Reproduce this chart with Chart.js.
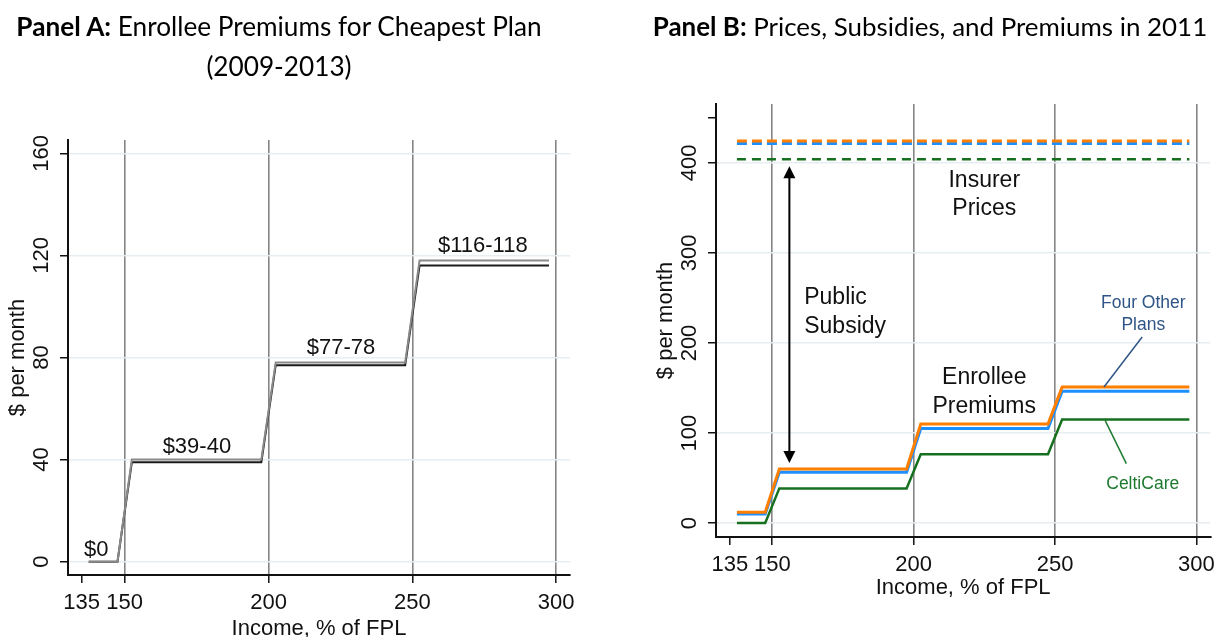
<!DOCTYPE html>
<html>
<head>
<meta charset="utf-8">
<script src="https://cdn.jsdelivr.net/npm/chart.js@4.4.1/dist/chart.umd.min.js"></script>
<style>
  html, body { margin: 0; padding: 0; background: #ffffff; }
  body { width: 1222px; height: 637px; position: relative; overflow: hidden; }
  .panel { position: absolute; top: 0; width: 611px; height: 637px; }
  #panelA { left: 0; }
  #panelB { left: 611px; }
  .ttl {
    position: absolute; white-space: nowrap; color: #000;
    font-family: Lato, "Open Sans", sans-serif; font-size: 27px;
    line-height: 40px; text-align: center; transform: translateX(-50%);
  }
  .ttl b { font-weight: 700; }
</style>
</head>
<body>
<div class="panel" id="panelA"><canvas id="chartA" width="611" height="637"></canvas></div>
<div class="panel" id="panelB"><canvas id="chartB" width="611" height="637"></canvas></div>
<div class="ttl" id="ttlA" style="left:279px; top:6px;"><span id="ttlA1"><b>Panel A:</b> Enrollee Premiums for Cheapest Plan</span><br><span>(2009-2013)</span></div>
<div class="ttl" id="ttlB" style="left:930px; top:6px;"><span id="ttlB1"><b>Panel B:</b> Prices, Subsidies, and Premiums in 2011</span></div>

<script>
// ---- shared axis values ----
const incomeSteps = [137.5, 147.5, 152.5, 197.5, 202.5, 247.5, 252.5, 297.5];
const xTickValues = [135, 150, 200, 250, 300];
const incomeGuides = [150, 200, 250, 300];

// ---- Panel A: cheapest-plan premiums, 2009-2013 ----
const cheapestHigh = [0, 0, 40, 40, 78, 78, 118, 118];
const cheapestLow  = [0, 0, 39, 39, 77, 77, 116, 116];
const yTicksA = [0, 40, 80, 120, 160];
const premiumLabels = ['$0', '$39-40', '$77-78', '$116-118'];
const premiumLabelX = [140.1, 175.1, 225.2, 274.5];
const premiumLabelY = [2.2, 42.5, 81.3, 121.2];

// ---- Panel B: 2011 prices, subsidies, premiums ----
const premOrange = [12, 12, 60, 60, 110, 110, 151, 151];
const premBlue   = [10, 10, 56.5, 56.5, 105, 105, 146.5, 146.5];
const premCelti  = [0, 0, 38.5, 38.5, 76.5, 76.5, 115, 115];
const priceSpan  = [137.5, 297.5];
const priceOrange = 424.5;
const priceBlue   = 421.5;
const priceCelti  = 404;
const yTicksB = [0, 100, 200, 300, 400, 450];
const yLabelsB = [0, 100, 200, 300, 400];
const subsidyArrow = { x: 156.05, top: 396.3, bottom: 66.7 };
const notesB = [
  { text: 'Insurer',  x: 224.96, y: 373.3, align: 'center' },
  { text: 'Prices',   x: 224.96, y: 341.9, align: 'center' },
  { text: 'Public',   x: 161.3,  y: 243.0, align: 'left' },
  { text: 'Subsidy',  x: 161.3,  y: 211.5, align: 'left' },
  { text: 'Enrollee', x: 224.96, y: 154.9, align: 'center' },
  { text: 'Premiums', x: 224.96, y: 122.7, align: 'center' }
];
const planNotes = [
  { text: 'Four Other', x: 281.2, y: 239.3, color: '#2f5587' },
  { text: 'Plans',      x: 281.2, y: 214.8, color: '#2f5587' },
  { text: 'CeltiCare',  x: 281.0, y: 38.2,  color: '#1d7a2f' }
];
const leaders = [
  { from: [280.8, 206.7], to: [267.3, 151.1], color: '#2f5587' },
  { from: [267.7, 114.1], to: [275.2, 66.0],  color: '#1d7a2f' }
];

// ---- styling ----
const FONT = '"Liberation Sans", Arial, Helvetica, sans-serif';
const INK = '#111111';
const GRID_H = '#e7eef1';
const GRID_V = '#858585';
const ORANGE = '#ff7f00';
const BLUE = '#1e8fff';
const GREEN = '#17701f';
Chart.defaults.font.family = FONT;
Chart.defaults.color = INK;

// Size the panel titles so each first line spans its panel heading width.
function fitTitle(boxId, lineId, target) {
  const box = document.getElementById(boxId);
  const w = document.getElementById(lineId).getBoundingClientRect().width;
  const size = 27 * target / w;
  box.style.fontSize = size.toFixed(2) + 'px';
}
fitTitle('ttlA', 'ttlA1', 525.5);
fitTitle('ttlB', 'ttlB1', 554.5);

const pts = (xs, ys) => xs.map((x, i) => ({ x, y: ys[i] }));

function xScale(min, max, height, pad) {
  return {
    type: 'linear', position: 'bottom', min, max,
    afterBuildTicks: s => { s.ticks = xTickValues.map(v => ({ value: v })); },
    afterFit: s => { s.height = height; },
    grid: {
      color: c => (c.tick && incomeGuides.includes(c.tick.value)) ? GRID_V : 'rgba(0,0,0,0)',
      lineWidth: 1.6, tickLength: 8, tickColor: INK, tickWidth: 1.5
    },
    border: { color: INK, width: 2 },
    ticks: {
      autoSkip: false, maxRotation: 0, minRotation: 0, padding: pad,
      color: INK, font: { size: 22 }, callback: v => String(v)
    }
  };
}

function yScale(min, max, width, ticks, labeled) {
  return {
    type: 'linear', position: 'left', min, max,
    afterBuildTicks: s => { s.ticks = ticks.map(v => ({ value: v })); },
    afterFit: s => { s.width = width; },
    grid: {
      color: c => (c.tick && labeled.includes(c.tick.value)) ? GRID_H : 'rgba(0,0,0,0)',
      lineWidth: 1.5, tickLength: 8, tickColor: INK, tickWidth: 1.5
    },
    border: { color: INK, width: 2 },
    ticks: { display: false }
  };
}

// Rotated y tick labels and both axis titles.
function axisText(yLabels, xTitleOffset) {
  return {
    id: 'axisText',
    afterDraw(chart) {
      const { ctx, chartArea: a, scales: { x, y } } = chart;
      ctx.save();
      ctx.fillStyle = INK;
      ctx.font = '22px ' + FONT;
      ctx.textAlign = 'center';
      ctx.textBaseline = 'middle';
      yLabels.forEach(v => {
        ctx.save();
        ctx.translate(a.left - 26, y.getPixelForValue(v));
        ctx.rotate(-Math.PI / 2);
        ctx.fillText(String(v), 0, 0);
        ctx.restore();
      });
      ctx.save();
      ctx.translate(a.left - 50, (a.top + a.bottom) / 2);
      ctx.rotate(-Math.PI / 2);
      ctx.fillText('$ per month', 0, 0);
      ctx.restore();
      ctx.textBaseline = 'alphabetic';
      ctx.fillText('Income, % of FPL', (a.left + a.right) / 2, a.bottom + xTitleOffset);
      ctx.restore();
    }
  };
}

const premiumText = {
  id: 'premiumText',
  afterDatasetsDraw(chart) {
    const { ctx, scales: { x, y } } = chart;
    ctx.save();
    ctx.fillStyle = INK;
    ctx.font = '22px ' + FONT;
    ctx.textAlign = 'center';
    ctx.textBaseline = 'alphabetic';
    premiumLabels.forEach((t, i) => {
      ctx.fillText(t, x.getPixelForValue(premiumLabelX[i]), y.getPixelForValue(premiumLabelY[i]));
    });
    ctx.restore();
  }
};

const subsidyNotes = {
  id: 'subsidyNotes',
  afterDatasetsDraw(chart) {
    const { ctx, scales: { x, y } } = chart;
    ctx.save();
    // double-headed subsidy arrow
    const ax = x.getPixelForValue(subsidyArrow.x);
    const at = y.getPixelForValue(subsidyArrow.top);
    const ab = y.getPixelForValue(subsidyArrow.bottom);
    const head = 12, half = 6;
    ctx.strokeStyle = '#000';
    ctx.fillStyle = '#000';
    ctx.lineWidth = 2;
    ctx.beginPath();
    ctx.moveTo(ax, at + head - 1);
    ctx.lineTo(ax, ab - head + 1);
    ctx.stroke();
    ctx.beginPath();
    ctx.moveTo(ax, at); ctx.lineTo(ax - half, at + head); ctx.lineTo(ax + half, at + head); ctx.closePath(); ctx.fill();
    ctx.beginPath();
    ctx.moveTo(ax, ab); ctx.lineTo(ax - half, ab - head); ctx.lineTo(ax + half, ab - head); ctx.closePath(); ctx.fill();

    // leader lines to plan labels
    ctx.lineWidth = 1.5;
    leaders.forEach(l => {
      ctx.strokeStyle = l.color;
      ctx.beginPath();
      ctx.moveTo(x.getPixelForValue(l.from[0]), y.getPixelForValue(l.from[1]));
      ctx.lineTo(x.getPixelForValue(l.to[0]), y.getPixelForValue(l.to[1]));
      ctx.stroke();
    });

    ctx.textBaseline = 'alphabetic';
    ctx.fillStyle = INK;
    ctx.font = '23px ' + FONT;
    notesB.forEach(n => {
      ctx.textAlign = n.align;
      ctx.fillText(n.text, x.getPixelForValue(n.x), y.getPixelForValue(n.y));
    });
    ctx.font = '17.5px ' + FONT;
    ctx.textAlign = 'center';
    planNotes.forEach(n => {
      ctx.fillStyle = n.color;
      ctx.fillText(n.text, x.getPixelForValue(n.x), y.getPixelForValue(n.y));
    });
    ctx.restore();
  }
};

const common = {
  responsive: false,
  animation: false,
  devicePixelRatio: 1,
  events: [],
  plugins: { legend: { display: false }, tooltip: { enabled: false }, title: { display: false } },
  elements: { point: { radius: 0 }, line: { tension: 0, borderJoinStyle: 'miter', borderCapStyle: 'butt' } }
};

new Chart(document.getElementById('chartA'), {
  type: 'line',
  data: {
    datasets: [
      { label: 'Low', data: pts(incomeSteps, cheapestLow), borderColor: '#1a1a1a', borderWidth: 2, order: 2 },
      { label: 'High', data: pts(incomeSteps, cheapestHigh), borderColor: '#8a8a8a', borderWidth: 2, order: 1 }
    ]
  },
  options: {
    ...common,
    layout: { padding: { left: 0, right: 41, top: 140, bottom: 0 } },
    scales: {
      x: xScale(130.3, 304.8, 62, 7),
      y: yScale(-5.2, 165.2, 68, yTicksA, yTicksA)
    }
  },
  plugins: [axisText(yTicksA, 60), premiumText]
});

const flat = (v) => pts(priceSpan, [v, v]);

new Chart(document.getElementById('chartB'), {
  type: 'line',
  data: {
    datasets: [
      { label: 'CeltiCare price', data: flat(priceCelti), borderColor: GREEN, borderWidth: 2.5, borderDash: [9, 6] },
      { label: 'Plan price', data: flat(priceOrange), borderColor: ORANGE, borderWidth: 3, borderDash: [10, 5] },
      { label: 'Plan price 2', data: flat(priceBlue), borderColor: BLUE, borderWidth: 3, borderDash: [10, 5] },
      { label: 'CeltiCare', data: pts(incomeSteps, premCelti), borderColor: GREEN, borderWidth: 2.5 },
      { label: 'Plan premium', data: pts(incomeSteps, premOrange), borderColor: ORANGE, borderWidth: 3 },
      { label: 'Plan premium 2', data: pts(incomeSteps, premBlue), borderColor: BLUE, borderWidth: 3 }
    ]
  },
  options: {
    ...common,
    layout: { padding: { left: 0, right: 7, top: 104, bottom: 0 } },
    scales: {
      x: xScale(130.1, 304.9, 100, 7),
      y: yScale(-15.5, 465.5, 105, yTicksB, yLabelsB)
    }
  },
  plugins: [axisText(yLabelsB, 57.3), subsidyNotes]
});
</script>
</body>
</html>
